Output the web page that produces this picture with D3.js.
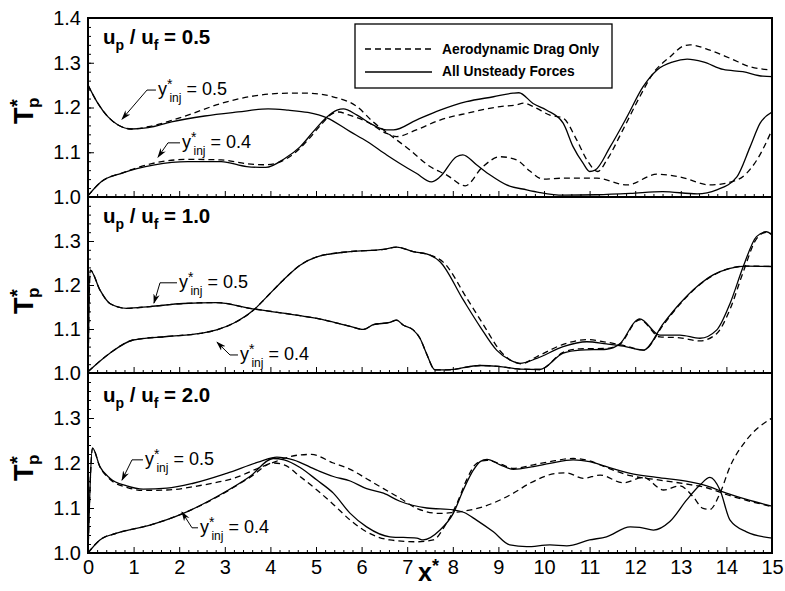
<!DOCTYPE html>
<html>
<head>
<meta charset="utf-8">
<script src="https://cdn.jsdelivr.net/npm/d3@7"></script>
<style>
body{margin:0;background:#fff;}
text{font-family:"Liberation Sans",Arial,Helvetica,sans-serif;fill:#000;}
</style>
</head>
<body>
<script>
// x* ticks and panel ratios
var xTicks = d3.range(0, 16);
var ratios = ["0.5", "1.0", "2.0"];
var yTicksTop = [1.0, 1.1, 1.2, 1.3, 1.4];
var yTicksRest = [1.0, 1.1, 1.2, 1.3];
var legendLabels = ["Aerodynamic Drag Only", "All Unsteady Forces"];

// up/uf = 0.5
var p1_05_all = [[0,1.25],[0.2,1.212],[0.44,1.179],[0.66,1.161],[0.95,1.152],[1.32,1.155],[1.83,1.168],[2.56,1.181],[3.29,1.19],[3.95,1.197],[4.39,1.194],[4.82,1.189],[5.24,1.177],[5.75,1.146],[6.12,1.124],[6.55,1.094],[6.84,1.075],[7.2,1.053],[7.53,1.034],[7.72,1.045],[8.08,1.09],[8.22,1.094],[8.52,1.072],[8.82,1.049],[9.18,1.027],[9.62,1.016],[9.91,1.01],[10.42,1.004],[11.16,1.005],[11.89,1.008],[12.6,1.012],[13.36,1.007],[13.79,1.016],[14.23,1.045],[14.52,1.112],[14.74,1.165],[15,1.19]];
var p1_05_drag = [[0,1.25],[0.2,1.212],[0.44,1.179],[0.66,1.161],[0.95,1.152],[1.32,1.157],[1.8,1.17],[2.19,1.183],[2.92,1.209],[3.65,1.226],[4.39,1.232],[4.82,1.232],[5.37,1.224],[5.9,1.202],[6.25,1.168],[6.62,1.139],[7.06,1.105],[7.5,1.068],[7.87,1.049],[8.27,1.025],[8.66,1.068],[9.04,1.09],[9.4,1.083],[9.69,1.058],[9.98,1.04],[10.42,1.042],[11.16,1.042],[11.82,1.027],[12.48,1.051],[12.98,1.045],[13.64,1.027],[14.23,1.038],[14.67,1.083],[15,1.15]];
var p1_04_all = [[0,1.003],[0.29,1.034],[0.73,1.053],[1.46,1.072],[2.19,1.079],[2.92,1.079],[3.48,1.068],[3.9,1.066],[4.3,1.085],[4.65,1.112],[4.94,1.146],[5.24,1.179],[5.46,1.194],[5.6,1.197],[5.9,1.183],[6.25,1.161],[6.55,1.15],[6.7,1.15],[7.2,1.172],[7.72,1.194],[8.3,1.213],[8.89,1.224],[9.32,1.232],[9.45,1.233],[9.76,1.209],[10.06,1.194],[10.42,1.165],[10.64,1.112],[10.86,1.075],[11.0,1.057],[11.12,1.06],[11.45,1.112],[11.82,1.179],[12.17,1.246],[12.48,1.284],[12.83,1.302],[13.14,1.308],[13.49,1.302],[13.93,1.285],[14.36,1.28],[14.8,1.27],[15,1.269]];
var p1_04_drag = [[0,1.003],[0.29,1.034],[0.73,1.053],[1.46,1.076],[2.19,1.084],[2.92,1.083],[3.5,1.074],[3.9,1.072],[4.2,1.078],[4.53,1.098],[4.82,1.127],[5.1,1.16],[5.37,1.187],[5.5,1.19],[5.7,1.184],[6.12,1.168],[6.55,1.142],[6.77,1.135],[7.2,1.15],[7.72,1.172],[8.3,1.187],[9.04,1.202],[9.4,1.206],[9.55,1.21],[9.8,1.2],[10.13,1.183],[10.42,1.176],[10.72,1.127],[10.94,1.083],[11.18,1.057],[11.38,1.083],[11.73,1.15],[12.1,1.224],[12.39,1.276],[12.76,1.313],[13.05,1.337],[13.2,1.34],[13.64,1.328],[14.08,1.31],[14.52,1.291],[15,1.284]];

// up/uf = 1.0
var p2_05_all = [[0,1.0],[0.05,1.234],[0.26,1.189],[0.48,1.158],[0.85,1.147],[1.36,1.151],[2.09,1.158],[2.82,1.16],[3.55,1.147],[4.28,1.136],[5.02,1.124],[5.75,1.106],[6.04,1.099],[6.26,1.11],[6.62,1.115],[6.77,1.12],[6.91,1.109],[7.13,1.098],[7.28,1.079],[7.42,1.045],[7.61,1.007],[7.87,1.007],[8.6,1.017],[9.0,1.015],[9.47,1.009],[9.91,1.008],[10.42,1.045],[10.79,1.052],[11.37,1.054],[11.67,1.067],[12.03,1.12],[12.1,1.123],[12.54,1.086],[12.98,1.086],[13.42,1.079],[13.79,1.098],[14.08,1.158],[14.37,1.242],[14.66,1.31],[14.88,1.321],[15,1.314]];
var p2_05_drag = [[0,1.0],[0.05,1.234],[0.26,1.189],[0.48,1.158],[0.85,1.147],[1.36,1.151],[2.09,1.158],[2.82,1.16],[3.55,1.147],[4.28,1.136],[5.02,1.124],[5.75,1.106],[6.04,1.099],[6.26,1.11],[6.62,1.115],[6.77,1.12],[6.91,1.109],[7.13,1.098],[7.28,1.079],[7.42,1.045],[7.61,1.007],[7.87,1.007],[8.6,1.017],[9.0,1.015],[9.47,1.009],[9.91,1.008],[10.42,1.047],[10.79,1.055],[11.37,1.056],[11.67,1.066],[12.03,1.118],[12.1,1.121],[12.54,1.082],[12.98,1.08],[13.42,1.073],[13.79,1.09],[14.08,1.145],[14.37,1.23],[14.66,1.305],[14.88,1.32],[15,1.315]];
var p2_04_all = [[0,1.003],[0.48,1.045],[0.99,1.075],[1.73,1.083],[2.46,1.09],[2.82,1.098],[3.19,1.113],[3.63,1.143],[3.92,1.173],[4.28,1.211],[4.65,1.245],[5.02,1.264],[5.75,1.276],[6.48,1.281],[6.77,1.286],[7.13,1.276],[7.5,1.268],[7.72,1.253],[8.23,1.166],[8.6,1.105],[8.96,1.052],[9.33,1.026],[9.47,1.022],[9.84,1.033],[10.42,1.06],[10.94,1.071],[11.37,1.066],[11.74,1.061],[12.18,1.052],[12.62,1.113],[12.98,1.158],[13.35,1.196],[13.71,1.223],[14.08,1.238],[14.45,1.243],[15,1.242]];
var p2_04_drag = [[0,1.003],[0.48,1.045],[0.99,1.075],[1.73,1.083],[2.46,1.09],[2.82,1.098],[3.19,1.113],[3.63,1.143],[3.92,1.173],[4.28,1.211],[4.65,1.245],[5.02,1.264],[5.75,1.276],[6.48,1.281],[6.77,1.286],[7.13,1.276],[7.5,1.268],[7.78,1.253],[8.33,1.166],[8.7,1.105],[9.04,1.05],[9.37,1.024],[9.5,1.021],[9.84,1.037],[10.42,1.065],[10.94,1.076],[11.37,1.07],[11.74,1.063],[12.18,1.052],[12.62,1.11],[12.98,1.156],[13.35,1.195],[13.71,1.222],[14.08,1.238],[14.45,1.243],[15,1.242]];

// up/uf = 2.0
var p3_05_all = [[0,1.0],[0.1,1.233],[0.26,1.192],[0.48,1.166],[0.85,1.149],[1.21,1.142],[1.73,1.144],[2.31,1.155],[3.04,1.177],[3.77,1.203],[4.14,1.213],[4.5,1.207],[5.02,1.184],[5.38,1.17],[5.75,1.16],[6.11,1.143],[6.48,1.133],[6.84,1.115],[7.43,1.1],[8.01,1.096],[8.25,1.09],[8.52,1.073],[8.89,1.047],[9.25,1.018],[9.62,1.014],[10.13,1.018],[10.5,1.016],[11.0,1.029],[11.37,1.036],[11.89,1.058],[12.1,1.057],[12.4,1.051],[12.76,1.07],[13.13,1.118],[13.42,1.151],[13.64,1.168],[13.86,1.14],[14.08,1.073],[14.44,1.047],[15,1.033]];
var p3_05_drag = [[0,1.0],[0.1,1.233],[0.26,1.192],[0.48,1.164],[0.85,1.146],[1.21,1.139],[1.73,1.14],[2.46,1.15],[3.19,1.166],[3.92,1.196],[4.65,1.218],[4.9,1.219],[5.38,1.2],[5.75,1.186],[6.11,1.165],[6.48,1.143],[6.84,1.122],[7.21,1.099],[7.72,1.088],[8.0,1.09],[8.3,1.094],[8.67,1.103],[9.33,1.133],[9.69,1.155],[10.28,1.177],[10.5,1.178],[10.86,1.166],[11.23,1.173],[11.74,1.156],[12.18,1.168],[12.62,1.14],[12.98,1.149],[13.27,1.125],[13.49,1.099],[13.64,1.097],[13.86,1.133],[14.08,1.192],[14.44,1.251],[15,1.3]];
var p3_04_all = [[0,1.0],[0.26,1.029],[0.63,1.044],[1.36,1.062],[2.09,1.088],[2.82,1.125],[3.55,1.17],[4.06,1.21],[4.3,1.207],[4.65,1.19],[5.02,1.162],[5.38,1.133],[5.75,1.088],[6.11,1.058],[6.62,1.036],[7.21,1.033],[7.35,1.029],[7.72,1.051],[8.01,1.088],[8.23,1.14],[8.45,1.184],[8.6,1.203],[8.75,1.208],[9.04,1.196],[9.33,1.186],[9.77,1.192],[10.13,1.199],[10.64,1.207],[11.0,1.203],[11.37,1.192],[11.89,1.177],[12.47,1.168],[13.2,1.158],[13.57,1.149],[14.0,1.133],[14.44,1.119],[15,1.104]];
var p3_04_drag = [[0,1.0],[0.26,1.029],[0.63,1.044],[1.36,1.062],[2.09,1.088],[2.82,1.124],[3.55,1.168],[4.06,1.2],[4.3,1.196],[4.65,1.17],[5.02,1.14],[5.38,1.108],[5.75,1.073],[6.11,1.047],[6.62,1.029],[7.21,1.025],[7.57,1.029],[7.86,1.066],[8.09,1.11],[8.3,1.162],[8.52,1.199],[8.75,1.206],[9.04,1.198],[9.33,1.188],[9.77,1.196],[10.13,1.203],[10.64,1.21],[11.0,1.205],[11.37,1.19],[11.89,1.172],[12.47,1.163],[13.2,1.152],[13.57,1.145],[14.0,1.13],[14.44,1.117],[15,1.103]];

var width = 785, height = 591;
var svg = d3.select("body").append("svg")
  .attr("width", width)
  .attr("height", height);

var xScale = d3.scaleLinear().domain([0, 15]).range([88, 772]);

var panels = [
  {top: 18, bottom: 197, ratio: ratios[0], yTicks: yTicksTop,
   series: [p1_05_drag, p1_05_all, p1_04_drag, p1_04_all],
   // annotation leaders: tip, elbow, end of horizontal (data units)
   notes: [{v:"0.5", tip:[0.746,1.174], elbow:[1.294,1.239], end:1.49},
           {v:"0.4", tip:[1.535,1.089], elbow:[1.754,1.121], end:2.018}],
   titleY: 44, tBottom: 124},
  {top: 197, bottom: 373, ratio: ratios[1], yTicks: yTicksRest,
   series: [p2_05_drag, p2_05_all, p2_04_drag, p2_04_all],
   notes: [{v:"0.5", tip:[1.447,1.159], elbow:[1.579,1.205], end:1.952},
           {v:"0.4", tip:[2.829,1.070], elbow:[3.114,1.041], end:3.289}],
   titleY: 223, tBottom: 314},
  {top: 373, bottom: 553, ratio: ratios[2], yTicks: yTicksRest,
   series: [p3_05_drag, p3_05_all, p3_04_drag, p3_04_all],
   notes: [{v:"0.5", tip:[0.746,1.162], elbow:[0.965,1.207], end:1.206},
           {v:"0.4", tip:[2.061,1.091], elbow:[2.281,1.056], end:2.412}],
   titleY: 402, tBottom: 481}
];

svg.append("defs").append("marker")
  .attr("id", "arrow")
  .attr("viewBox", "0 0 10 10")
  .attr("refX", 9).attr("refY", 5)
  .attr("markerWidth", 10).attr("markerHeight", 10)
  .attr("markerUnits", "userSpaceOnUse")
  .attr("orient", "auto")
  .append("path")
  .attr("d", "M0,1.8 L10,5 L0,8.2 L3,5 Z")
  .attr("fill", "#000");

panels.forEach(function(p, i) {
  var yScale = d3.scaleLinear().domain([1.0, 1.4]).range([p.bottom, p.top]);
  var g = svg.append("g");

  g.append("clipPath").attr("id", "clip" + i)
    .append("rect")
    .attr("x", 88).attr("y", p.top)
    .attr("width", 684).attr("height", p.bottom - p.top);

  // minor ticks
  var xMinor = d3.axisBottom(xScale)
    .tickValues(d3.range(0, 15.001, 0.2).filter(function(d){ return Math.abs(d - Math.round(d)) > 0.01; }))
    .tickSize(-3).tickFormat("");
  g.append("g").attr("transform", "translate(0," + p.bottom + ")").call(xMinor);

  var xAxis = d3.axisBottom(xScale)
    .tickValues(xTicks)
    .tickSize(-6)
    .tickPadding(7)
    .tickFormat(i == 2 ? d3.format("d") : "");
  g.append("g").attr("class", "xaxis")
    .attr("transform", "translate(0," + p.bottom + ")")
    .call(xAxis);

  var yMinor = d3.axisLeft(yScale)
    .tickValues(d3.range(1.0, 1.4001, 0.02))
    .tickSize(-3).tickFormat("");
  g.append("g").attr("transform", "translate(88,0)").call(yMinor);

  var yAxis = d3.axisLeft(yScale)
    .tickValues(p.yTicks)
    .tickSize(-6)
    .tickPadding(7)
    .tickFormat(d3.format(".1f"));
  g.append("g").attr("class", "yaxis")
    .attr("transform", "translate(88,0)")
    .call(yAxis);

  g.selectAll(".domain").remove();
  g.selectAll(".tick line").attr("stroke", "#000").attr("stroke-width", 1);
  g.selectAll(".yaxis text").attr("font-size", 20).attr("fill", "#000");
  g.selectAll(".xaxis text").attr("font-size", 20).attr("fill", "#000");

  var line = d3.line()
    .x(function(d){ return xScale(d[0]); })
    .y(function(d){ return yScale(d[1]); })
    .curve(d3.curveMonotoneX);

  g.append("g").attr("clip-path", "url(#clip" + i + ")")
    .selectAll("path")
    .data(p.series)
    .enter()
    .append("path")
    .attr("d", line)
    .attr("fill", "none")
    .attr("stroke", "#000")
    .attr("stroke-width", 1.3)
    .attr("stroke-dasharray", function(d, k){ return k % 2 == 0 ? "6,4" : null; });

  // frame
  g.append("rect")
    .attr("x", 88).attr("y", p.top)
    .attr("width", 684).attr("height", p.bottom - p.top)
    .attr("fill", "none")
    .attr("stroke", "#000")
    .attr("stroke-width", 2);

  // panel title
  var t = g.append("text")
    .attr("x", 103).attr("y", p.titleY)
    .attr("font-size", 20.5).attr("font-weight", "bold");
  t.append("tspan").text("u");
  t.append("tspan").attr("dy", 6).attr("font-size", 14).text("p");
  t.append("tspan").attr("dy", -6).text(" / u");
  t.append("tspan").attr("dy", 6).attr("font-size", 14).text("f");
  t.append("tspan").attr("dy", -6).text(" = " + p.ratio);

  // y title T*p
  var yt = g.append("g").attr("transform", "translate(33," + p.tBottom + ") rotate(-90)");
  yt.append("text").attr("x", 0).attr("y", 0)
    .attr("font-size", 27).attr("font-weight", "bold").text("T");
  yt.append("text").attr("x", 16).attr("y", 6)
    .attr("font-size", 17).attr("font-weight", "bold").text("p");
  yt.append("text").attr("x", 17).attr("y", -9)
    .attr("font-size", 20).attr("font-weight", "bold").text("*");

  // y*inj annotations
  p.notes.forEach(function(n) {
    var ex = xScale(n.elbow[0]), ey = yScale(n.elbow[1]);
    var endx = xScale(n.end);
    g.append("path")
      .attr("d", "M" + endx + "," + ey + "L" + ex + "," + ey + "L" + xScale(n.tip[0]) + "," + yScale(n.tip[1]))
      .attr("fill", "none").attr("stroke", "#000").attr("stroke-width", 1)
      .attr("marker-end", "url(#arrow)");
    var a = g.append("text")
      .attr("x", endx + 2).attr("y", ey + 5)
      .attr("font-size", 18);
    a.append("tspan").text("y");
    a.append("tspan").attr("dy", -6).attr("font-size", 14).text("*");
    a.append("tspan").attr("dx", -3).attr("dy", 13).attr("font-size", 12).text("inj");
    a.append("tspan").attr("dy", -7).text(" = " + n.v);
  });
});

// legend
var lg = svg.append("g");
lg.append("rect")
  .attr("x", 355).attr("y", 24)
  .attr("width", 257).attr("height", 64)
  .attr("fill", "#fff").attr("stroke", "#000").attr("stroke-width", 1.3);
lg.selectAll("line.key")
  .data(legendLabels)
  .enter()
  .append("line")
  .attr("x1", 365).attr("x2", 432)
  .attr("y1", function(d, k){ return 49 + k * 23; })
  .attr("y2", function(d, k){ return 49 + k * 23; })
  .attr("stroke", "#000").attr("stroke-width", 1.3)
  .attr("stroke-dasharray", function(d, k){ return k == 0 ? "6,4" : null; });
lg.selectAll("text")
  .data(legendLabels)
  .enter()
  .append("text")
  .attr("x", 442)
  .attr("y", function(d, k){ return 54 + k * 22; })
  .attr("font-size", 13.8).attr("font-weight", "bold")
  .text(function(d){ return d; });

// x* label
var xl = svg.append("text")
  .attr("x", 418).attr("y", 581)
  .attr("font-size", 25).attr("font-weight", "bold");
xl.append("tspan").text("x");
xl.append("tspan").attr("dy", -9).attr("font-size", 18).text("*");
</script>
</body>
</html>
